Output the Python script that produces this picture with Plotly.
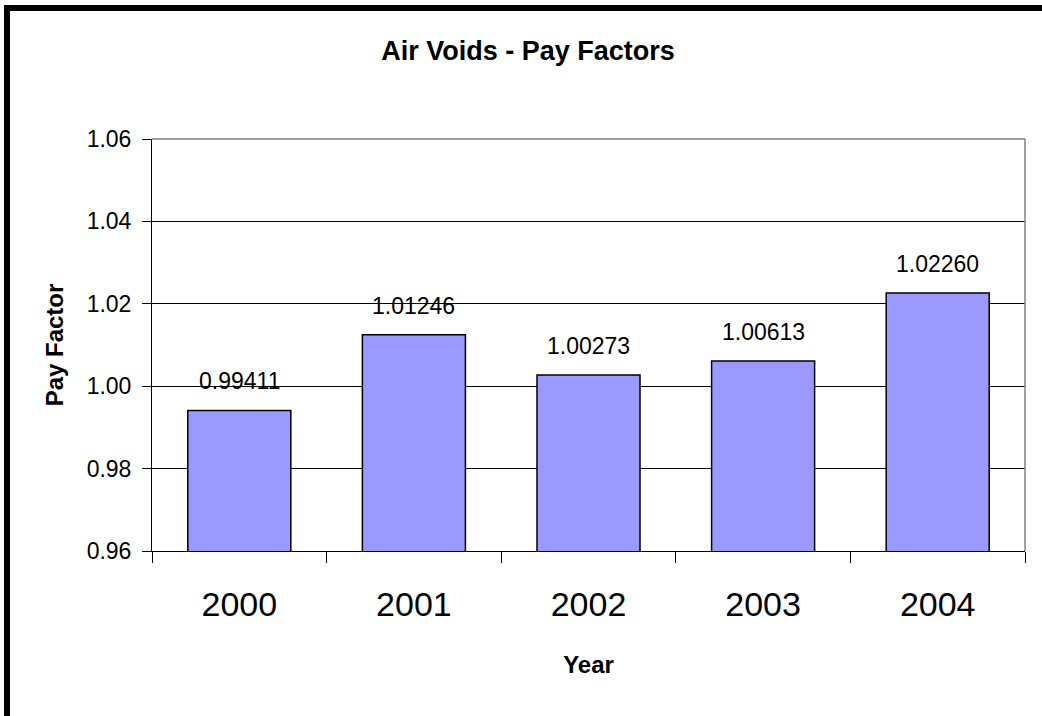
import plotly.graph_objects as go

# Data
YEARS = ['2000', '2001', '2002', '2003', '2004']
PAY_FACTORS = [0.99411, 1.01246, 1.00273, 1.00613, 1.02260]
Y_TICKS = [0.96, 0.98, 1.00, 1.02, 1.04, 1.06]

BAR_COLOR = '#9999FF'
FONT = "Arial, 'Liberation Sans', sans-serif"

W, H = 1042, 716
M_L, M_R, M_T, M_B = 152, 17, 139, 165
PW, PH = W - M_L - M_R, H - M_T - M_B


def px_to_paper_x(px):
    return (px - M_L) / PW


def px_to_paper_y(py):
    return (H - M_B - py) / PH


fig = go.Figure()
fig.add_trace(go.Bar(
    x=YEARS,
    y=PAY_FACTORS,
    marker=dict(color=BAR_COLOR, line=dict(color='#000000', width=1.5)),
    hoverinfo='x+y',
))

# value labels above each bar (category index as x, so '2000' isn't read as a number)
for i, v in enumerate(PAY_FACTORS):
    fig.add_annotation(
        x=i, y=v, text=f"{v:.5f}", showarrow=False,
        yanchor='middle', yshift=29,
        font=dict(family=FONT, size=23, color='#000000'),
    )

fig.update_layout(
    width=W, height=H,
    margin=dict(l=M_L, r=M_R, t=M_T, b=M_B, autoexpand=False),
    paper_bgcolor='#FFFFFF',
    plot_bgcolor='#FFFFFF',
    font=dict(family=FONT, color='#000000'),
    bargap=0.41,
    showlegend=False,
    title=dict(
        text="<b>Air Voids - Pay Factors</b>",
        font=dict(family=FONT, size=27, color='#000000'),
        x=528 / W, xref='container', xanchor='center',
        y=1 - 51 / H, yref='container', yanchor='middle',
    ),
    shapes=[
        # gray plot-area border on top and right
        dict(type='line', xref='paper', yref='paper', x0=0, x1=1, y0=1, y1=1,
             line=dict(color='#808080', width=1.5), layer='above'),
        dict(type='line', xref='paper', yref='paper', x0=1, x1=1, y0=0, y1=1,
             line=dict(color='#808080', width=1.5), layer='above'),
        # thick black chart frame
        dict(type='rect', xref='paper', yref='paper',
             x0=px_to_paper_x(7), x1=px_to_paper_x(W + 20),
             y0=px_to_paper_y(H + 20), y1=px_to_paper_y(8),
             line=dict(color='#000000', width=6), layer='above'),
    ],
)

fig.update_xaxes(
    type='category',
    range=[-0.5, len(YEARS) - 0.5],
    showline=True, linecolor='#000000', linewidth=1,
    showgrid=False,
    ticks='outside', tickson='boundaries', ticklen=11, tickcolor='#000000', tickwidth=1,
    tickangle=0,
    tickfont=dict(family=FONT, size=34, color='#000000'),
    ticklabelstandoff=23,
    title=dict(text="<b>Year</b>", font=dict(family=FONT, size=24, color='#000000'), standoff=34),
)
fig.update_yaxes(
    range=[0.96, 1.06],
    tickvals=Y_TICKS,
    ticktext=[f"{t:.2f}" for t in Y_TICKS],
    showline=True, linecolor='#000000', linewidth=1,
    showgrid=True, gridcolor='#000000', gridwidth=1,
    zeroline=False,
    ticks='outside', ticklen=9, tickcolor='#000000', tickwidth=1,
    tickfont=dict(family=FONT, size=23, color='#000000'),
    ticklabelstandoff=6,
    title=dict(text="<b>Pay Factor</b>", font=dict(family=FONT, size=24, color='#000000'), standoff=16),
)

fig.write_html("out.html", config={'displayModeBar': False},
               post_script="document.body.style.margin='0';")
